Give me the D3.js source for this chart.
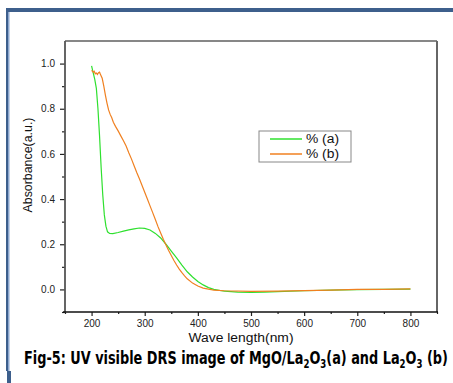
<!DOCTYPE html>
<html>
<head>
<meta charset="utf-8">
<script src="https://cdn.jsdelivr.net/npm/d3@7"></script>
<style>
  html, body { margin: 0; padding: 0; background: #fff; }
  svg { display: block; }
</style>
</head>
<body>
<div id="chart"></div>
<script>
// wavelength (nm) / absorbance for sample (a) MgO/La2O3
const waveA = [200, 203, 206, 209, 212, 215, 218, 221, 224, 227, 230, 234, 240, 250, 260, 270, 280, 290, 300,
  310, 320, 330, 340, 350, 360, 370, 380, 390, 400, 410, 420, 430, 450, 475, 500, 525, 550, 600, 650, 700, 750, 800]
const absA = [0.99, 0.96, 0.93, 0.89, 0.80, 0.68, 0.54, 0.42, 0.33, 0.28, 0.255, 0.248, 0.247, 0.252, 0.258, 0.264, 0.268, 0.272, 0.270,
  0.263, 0.248, 0.228, 0.200, 0.170, 0.140, 0.108, 0.078, 0.055, 0.035, 0.020, 0.008, 0.000, -0.008, -0.012, -0.013, -0.012, -0.010, -0.006, -0.003, -0.001, 0.000, 0.001]

// sample (b) La2O3
const waveB = [200, 203, 205, 207, 209, 211, 213, 215, 217, 220, 223, 226, 229, 232, 235, 238, 241, 245, 250, 255, 260, 265, 270, 275,
  280, 285, 290, 295, 300, 305, 310, 315, 320, 325, 330, 335, 340, 345, 350, 355, 360, 365, 370, 375, 380, 390, 400, 410, 420, 430,
  450, 500, 550, 600, 650, 700, 750, 800]
const absB = [0.970, 0.962, 0.966, 0.955, 0.958, 0.952, 0.960, 0.962, 0.950, 0.935, 0.900, 0.860, 0.825, 0.795, 0.775, 0.760, 0.740, 0.722, 0.702, 0.680, 0.658, 0.635, 0.605, 0.578,
  0.548, 0.518, 0.490, 0.460, 0.430, 0.400, 0.370, 0.340, 0.310, 0.278, 0.250, 0.222, 0.197, 0.172, 0.150, 0.128, 0.108, 0.090, 0.074, 0.060, 0.047, 0.028, 0.015, 0.006, 0.001, -0.003,
  -0.006, -0.009, -0.008, -0.005, -0.003, 0.000, 0.000, 0.002]

const xMajor = [200, 300, 400, 500, 600, 700, 800]
const xMinor = [150, 250, 350, 450, 550, 650, 750, 850]
const yMajor = [0.0, 0.2, 0.4, 0.6, 0.8, 1.0]
const yMinor = [-0.1, 0.1, 0.3, 0.5, 0.7, 0.9]
const legendLabels = ['% (a)', '% (b)']
const colors = ['#2fe02f', '#f08020']
const captionParts = [
  ['Fig-5: UV visible DRS image of MgO/La', false], ['2', true], ['O', false], ['3', true],
  ['(a) and La', false], ['2', true], ['O', false], ['3', true], [' (b)', false]
]

const width = 453
const height = 383
const plot = { left: 65, right: 437, top: 41, bottom: 312 }
const fontFam = '"Liberation Sans", Arial, sans-serif'

const svg = d3.select('#chart')
  .append('svg')
  .attr('width', width)
  .attr('height', height)

// outer page border
svg.append('rect').attr('x', 6).attr('y', 8).attr('width', width - 6).attr('height', 4).attr('fill', '#3d5f8c')
svg.append('rect').attr('x', 6).attr('y', 8).attr('width', 2).attr('height', 363).attr('fill', '#3d5f8c')
svg.append('rect').attr('x', 8).attr('y', 12).attr('width', 1.5).attr('height', 359).attr('fill', '#8da8cf')
svg.append('rect').attr('x', 7).attr('y', 371).attr('width', 4).attr('height', 12).attr('fill', '#3d5f8c')

const x = d3.scaleLinear().domain([150, 850]).range([plot.left, plot.right])
const y = d3.scaleLinear().domain([-0.1, 1.1]).range([plot.bottom, plot.top])

// axes
svg.append('g')
  .attr('transform', `translate(0,${plot.bottom})`)
  .call(d3.axisBottom(x).tickValues(xMajor).tickSize(4).tickPadding(4).tickFormat(d3.format('d')))
svg.append('g')
  .attr('transform', `translate(0,${plot.bottom})`)
  .call(d3.axisBottom(x).tickValues(xMinor).tickSize(2).tickFormat(''))
svg.append('g')
  .attr('transform', `translate(${plot.left},0)`)
  .call(d3.axisLeft(y).tickValues(yMajor).tickSize(5).tickPadding(5).tickFormat(d3.format('.1f')))
svg.append('g')
  .attr('transform', `translate(${plot.left},0)`)
  .call(d3.axisLeft(y).tickValues(yMinor).tickSize(3).tickFormat(''))

svg.selectAll('.domain').remove()
svg.selectAll('.tick line').attr('stroke', '#222').attr('stroke-width', 1.2)
svg.selectAll('.tick text')
  .attr('font-family', fontFam)
  .attr('font-size', 10)
  .attr('fill', '#222')

// frame
svg.append('line').attr('x1', plot.left).attr('x2', plot.right).attr('y1', plot.top).attr('y2', plot.top)
  .attr('stroke', '#111').attr('stroke-width', 1.2)
svg.append('line').attr('x1', plot.right).attr('x2', plot.right).attr('y1', plot.top).attr('y2', plot.bottom)
  .attr('stroke', '#666').attr('stroke-width', 2)
svg.append('line').attr('x1', plot.left).attr('x2', plot.left).attr('y1', plot.top).attr('y2', plot.bottom + 1)
  .attr('stroke', '#555').attr('stroke-width', 1.8)
svg.append('line').attr('x1', plot.left - 2).attr('x2', plot.right + 1).attr('y1', plot.bottom).attr('y2', plot.bottom)
  .attr('stroke', '#111').attr('stroke-width', 1.4)

// curves
const line = d3.line().x(d => x(d[0])).y(d => y(d[1]))
const seriesA = waveA.map((w, i) => [w, absA[i]])
const seriesB = waveB.map((w, i) => [w, absB[i]])

svg.append('path').datum(seriesA)
  .attr('d', line).attr('fill', 'none').attr('stroke', colors[0]).attr('stroke-width', 1.2)
svg.append('path').datum(seriesB)
  .attr('d', line).attr('fill', 'none').attr('stroke', colors[1]).attr('stroke-width', 1.2)

// legend
const legend = svg.append('g').attr('transform', 'translate(259,131)')
legend.append('rect').attr('width', 92).attr('height', 31)
  .attr('fill', '#fff').attr('stroke', '#888').attr('stroke-width', 1)
legendLabels.forEach((lab, i) => {
  legend.append('line').attr('x1', 11).attr('x2', 43).attr('y1', 8 + i * 15).attr('y2', 8 + i * 15)
    .attr('stroke', colors[i]).attr('stroke-width', 1.5)
  legend.append('text').attr('x', 47).attr('y', 12 + i * 15)
    .attr('font-family', fontFam).attr('font-size', 12).attr('fill', '#111')
    .attr('textLength', 33).attr('lengthAdjust', 'spacingAndGlyphs')
    .text(lab)
})

// axis titles
svg.append('text')
  .attr('x', 241).attr('y', 342)
  .attr('text-anchor', 'middle')
  .attr('font-family', fontFam).attr('font-size', 12).attr('fill', '#111')
  .attr('textLength', 105).attr('lengthAdjust', 'spacingAndGlyphs')
  .text('Wave length(nm)')

svg.append('text')
  .attr('transform', 'translate(32,165) rotate(-90)')
  .attr('text-anchor', 'middle')
  .attr('font-family', fontFam).attr('font-size', 12).attr('fill', '#111')
  .attr('textLength', 95).attr('lengthAdjust', 'spacingAndGlyphs')
  .text('Absorbance(a.u.)')

// caption with subscripts, squeezed horizontally to fit the page width
const capG = svg.append('g')
const cap = capG.append('text')
  .attr('x', 0).attr('y', 0)
  .attr('font-family', '"Liberation Sans Narrow", "DejaVu Sans Condensed", "Liberation Sans", sans-serif')
  .attr('font-weight', 'bold').attr('font-size', 18).attr('fill', '#000')
captionParts.forEach((p, i) => {
  const prevSub = i > 0 && captionParts[i - 1][1]
  let dy = 0
  if (p[1] && !prevSub) dy = 4
  if (!p[1] && prevSub) dy = -4
  cap.append('tspan')
    .attr('font-size', p[1] ? 12 : 18)
    .attr('dy', dy)
    .text(p[0])
})
const capW = cap.node().getComputedTextLength()
capG.attr('transform', `translate(24,364) scale(${424 / capW},1)`)
</script>
</body>
</html>
